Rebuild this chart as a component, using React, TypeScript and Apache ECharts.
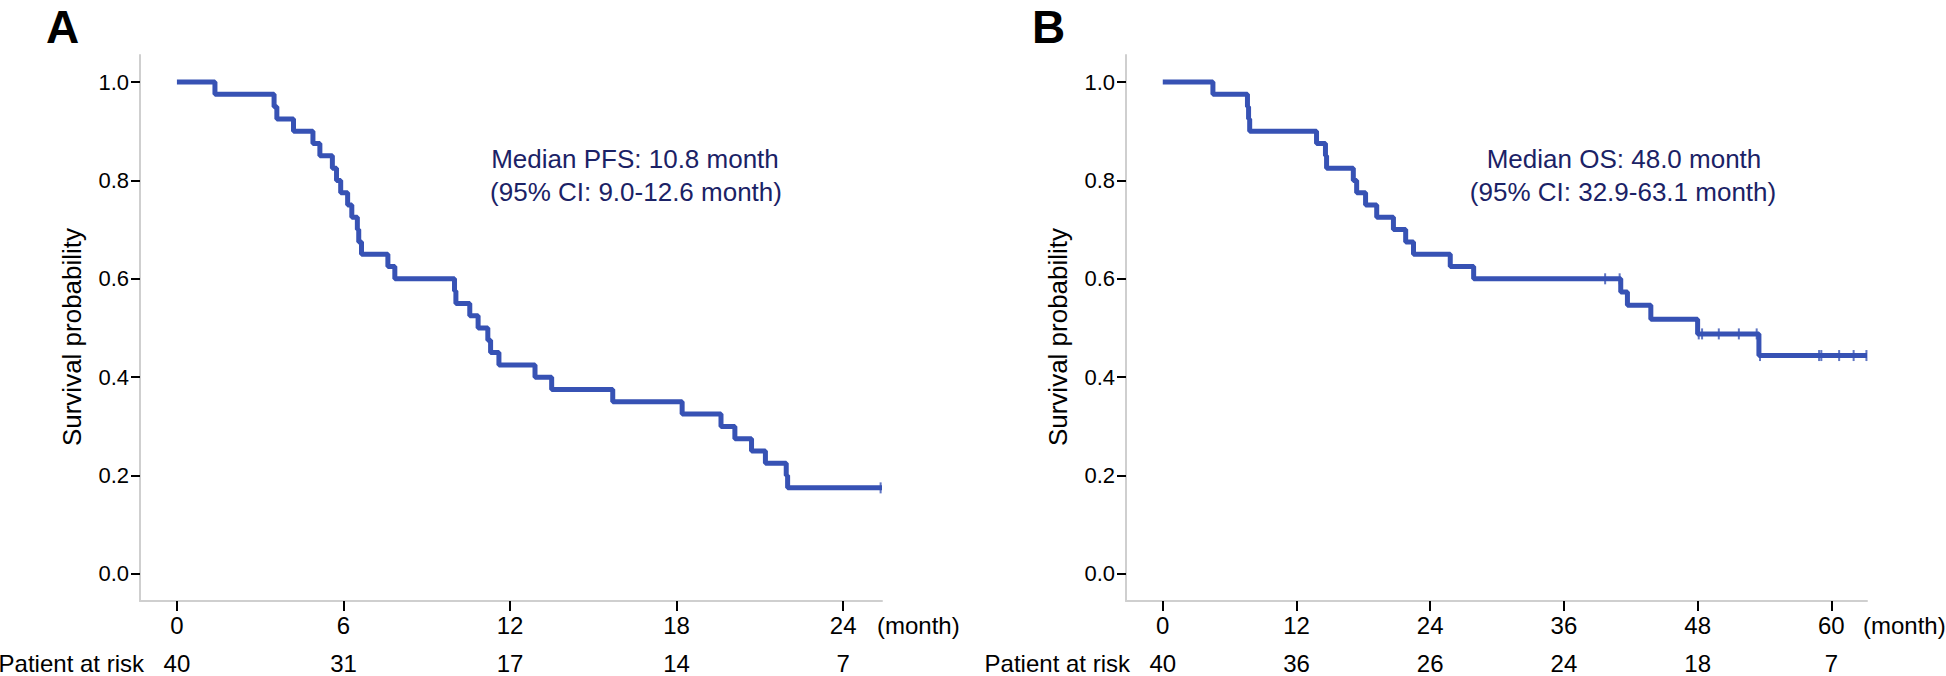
import React, { useEffect, useRef } from "react";
import * as echarts from "echarts";

// ---- Panel A: PFS ----
const timesA = [0, 1.37, 3.5, 3.6, 4.2, 4.9, 5.15, 5.6, 5.75, 5.9, 6.15, 6.3, 6.5, 6.55, 6.65, 7.6, 7.85, 10.0, 10.05, 10.55, 10.85, 11.2, 11.3, 11.6, 12.9, 13.5, 15.7, 18.2, 19.6, 20.1, 20.7, 21.2, 21.95, 22.0, 25.4];
const survA = [1.0, 0.975, 0.95, 0.925, 0.9, 0.875, 0.85, 0.825, 0.8, 0.775, 0.75, 0.725, 0.7, 0.675, 0.65, 0.625, 0.6, 0.575, 0.55, 0.525, 0.5, 0.475, 0.45, 0.425, 0.4, 0.375, 0.35, 0.325, 0.3, 0.275, 0.25, 0.225, 0.2, 0.175, 0.175];
const censorTimesA = [25.35];
const censorSurvA = [0.175];
const tickTimesA = [0, 6, 12, 18, 24];
const atRiskA = [40, 31, 17, 14, 7];

// ---- Panel B: OS ----
const timesB = [0, 4.5, 7.6, 7.7, 7.8, 13.8, 14.6, 14.7, 17.1, 17.4, 18.2, 19.2, 20.7, 21.8, 22.5, 25.8, 27.9, 41.1, 41.7, 43.8, 48.0, 53.5, 63.2];
const survB = [1.0, 0.975, 0.95, 0.925, 0.9, 0.875, 0.85, 0.825, 0.8, 0.775, 0.75, 0.725, 0.7, 0.675, 0.65, 0.625, 0.6, 0.573, 0.546, 0.518, 0.488, 0.444, 0.444];
const censorTimesB = [39.7, 41.0, 48.1, 48.4, 49.9, 51.7, 53.3, 53.6, 58.9, 59.1, 60.7, 62.0, 63.15];
const censorSurvB = [0.6, 0.6, 0.488, 0.488, 0.488, 0.488, 0.488, 0.444, 0.444, 0.444, 0.444, 0.444, 0.444];
const tickTimesB = [0, 12, 24, 36, 48, 60];
const atRiskB = [40, 36, 26, 24, 18, 7];

const yTicks = [0, 0.2, 0.4, 0.6, 0.8, 1.0];

const annotationA = ["Median PFS: 10.8 month", "(95% CI: 9.0-12.6 month)"];
const annotationB = ["Median OS: 48.0 month", "(95% CI: 32.9-63.1 month)"];

const FONT = "'Liberation Sans', Arial, sans-serif";
const LINE = "#3752b4";
const NAVY = "#1b2266";
const AXIS_GRAY = "#cfcfcf";

function xAxisMain(gridIndex: number, min: number, max: number, ticks: number[]) {
  return {
    type: "value",
    gridIndex,
    min,
    max,
    position: "bottom",
    axisLine: { show: true, onZero: false, lineStyle: { color: AXIS_GRAY, width: 2 } },
    axisTick: { show: true, length: 10, customValues: ticks, lineStyle: { color: "#000", width: 2 } },
    axisLabel: {
      show: true,
      customValues: ticks,
      margin: 12,
      fontSize: 24,
      fontFamily: FONT,
      color: "#000",
    },
    splitLine: { show: false },
  };
}

function xAxisRisk(gridIndex: number, min: number, max: number, ticks: number[], risk: number[]) {
  return {
    type: "value",
    gridIndex,
    min,
    max,
    position: "bottom",
    offset: 38,
    axisLine: { show: false, onZero: false },
    axisTick: { show: false },
    axisLabel: {
      show: true,
      customValues: ticks,
      margin: 12,
      fontSize: 24,
      fontFamily: FONT,
      color: "#000",
      formatter: (v: number) => {
        const i = ticks.indexOf(v);
        return i >= 0 ? String(risk[i]) : "";
      },
    },
    splitLine: { show: false },
  };
}

function yAxisMain(gridIndex: number) {
  return {
    type: "value",
    gridIndex,
    min: -0.055,
    max: 1.055,
    name: "Survival probability",
    nameLocation: "middle",
    nameRotate: 90,
    nameGap: 55,
    nameTextStyle: { fontSize: 26, fontFamily: FONT, color: "#000", padding: [0, 18, 0, 0] },
    axisLine: { show: true, onZero: false, lineStyle: { color: AXIS_GRAY, width: 2 } },
    axisTick: { show: true, length: 9, customValues: yTicks, lineStyle: { color: "#000", width: 2 } },
    axisLabel: {
      show: true,
      customValues: yTicks,
      margin: 11,
      fontSize: 22,
      fontFamily: FONT,
      color: "#000",
      formatter: (v: number) => v.toFixed(1),
    },
    splitLine: { show: false },
  };
}

function pairs(xs: number[], ys: number[]) {
  return xs.map((x, i) => [x, ys[i]]);
}

function textEl(text: string, x: number, y: number, size: number, color: string, align: string, weight = "normal") {
  return {
    type: "text",
    x,
    y,
    style: {
      text,
      fill: color,
      font: `${weight} ${size}px ${FONT}`,
      align,
      verticalAlign: "middle",
    },
  };
}

export default function App() {
  const ref = useRef<HTMLDivElement>(null);

  useEffect(() => {
    if (!ref.current) return;
    const chart = echarts.init(ref.current, undefined, { renderer: "svg" });
    const option: any = {
      animation: false,
      backgroundColor: "#ffffff",
      grid: [
        { left: 140, top: 55, width: 742, height: 546 },
        { left: 1126, top: 55, width: 741, height: 546 },
      ],
      xAxis: [
        xAxisMain(0, -1.33, 25.4, tickTimesA),
        xAxisMain(1, -3.3, 63.2, tickTimesB),
        xAxisRisk(0, -1.33, 25.4, tickTimesA, atRiskA),
        xAxisRisk(1, -3.3, 63.2, tickTimesB, atRiskB),
      ],
      yAxis: [yAxisMain(0), yAxisMain(1)],
      series: [
        {
          type: "line",
          xAxisIndex: 0,
          yAxisIndex: 0,
          step: "end",
          symbol: "none",
          data: pairs(timesA, survA),
          lineStyle: { color: LINE, width: 5 },
        },
        {
          type: "scatter",
          xAxisIndex: 0,
          yAxisIndex: 0,
          symbol: "rect",
          symbolSize: [2, 11],
          data: pairs(censorTimesA, censorSurvA),
          itemStyle: { color: LINE },
        },
        {
          type: "line",
          xAxisIndex: 1,
          yAxisIndex: 1,
          step: "end",
          symbol: "none",
          data: pairs(timesB, survB),
          lineStyle: { color: LINE, width: 5 },
        },
        {
          type: "scatter",
          xAxisIndex: 1,
          yAxisIndex: 1,
          symbol: "rect",
          symbolSize: [2, 11],
          data: pairs(censorTimesB, censorSurvB),
          itemStyle: { color: LINE },
        },
      ],
      graphic: [
        textEl("A", 46, 27, 46, "#000", "left", "bold"),
        textEl("B", 1032, 27, 46, "#000", "left", "bold"),
        textEl(annotationA[0], 635, 159, 26, NAVY, "center"),
        textEl(annotationA[1], 636, 192, 26, NAVY, "center"),
        textEl(annotationB[0], 1624, 159, 26, NAVY, "center"),
        textEl(annotationB[1], 1623, 192, 26, NAVY, "center"),
        textEl("(month)", 877, 625, 24, "#000", "left"),
        textEl("(month)", 1863, 625, 24, "#000", "left"),
        textEl("Patient at risk", 144, 663, 24, "#000", "right"),
        textEl("Patient at risk", 1130, 663, 24, "#000", "right"),
      ],
    };
    chart.setOption(option);
    return () => chart.dispose();
  }, []);

  return (
    <div
      ref={ref}
      style={{ position: "fixed", left: 0, top: 0, width: 1946, height: 676, background: "#fff" }}
    />
  );
}
